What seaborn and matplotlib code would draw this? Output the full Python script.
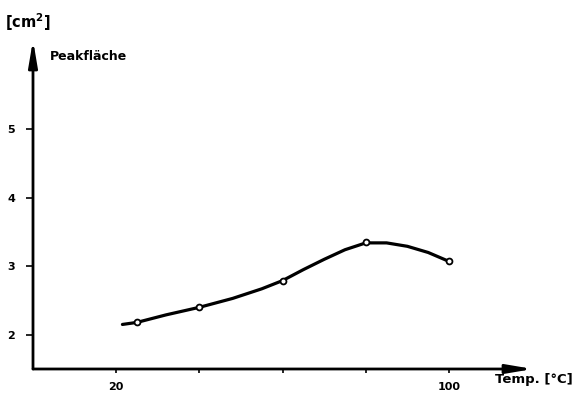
import matplotlib
matplotlib.use("Agg")
import matplotlib.pyplot as plt
import seaborn as sns
import pandas as pd

# measured points
temp = [25, 40, 60, 80, 100]
area = [2.18, 2.40, 2.79, 3.35, 3.07]

# hand-drawn smooth curve
curve_x = [21.5, 25, 32, 40, 48, 55, 60, 65, 70, 75, 80, 85, 90, 95, 100]
curve_y = [2.15, 2.18, 2.29, 2.40, 2.53, 2.67, 2.79, 2.95, 3.10, 3.24, 3.34, 3.34, 3.29, 3.20, 3.07]

x_ticks = [20, 40, 60, 80, 100]
x_tick_labels = ["20", "", "", "", "100"]
y_ticks = [2, 3, 4, 5]
y_tick_labels = ["2", "3", "4", "5"]

sns.set_theme(style="white")
plt.rcParams['font.family'] = ['DejaVu Sans']
plt.rcParams['text.color'] = 'black'
plt.rcParams['xtick.color'] = 'black'
plt.rcParams['ytick.color'] = 'black'

fig = plt.figure(figsize=(5.86, 3.95), dpi=100)
ax = fig.add_axes([33/586, 26/395, 500/586, 329/395])

df_curve = pd.DataFrame({"x": curve_x, "y": curve_y})
df_pts = pd.DataFrame({"x": temp, "y": area})

sns.lineplot(data=df_curve, x="x", y="y", ax=ax, color="black", linewidth=2.3,
             sort=False, estimator=None)
sns.scatterplot(data=df_pts, x="x", y="y", ax=ax, marker="o", s=18,
                facecolor="white", edgecolor="black", linewidth=1.3, zorder=5)

ax.set_xlim(0, 120.2)
ax.set_ylim(1.5, 6.3)
for s in ax.spines.values():
    s.set_visible(False)

# axes as arrows
ax.annotate("", xy=(1.0, 0), xytext=(0, 0), xycoords="axes fraction",
            arrowprops=dict(arrowstyle="-|>,head_length=1.3,head_width=0.22",
                            color="black", lw=2.0, shrinkA=0, shrinkB=0))
ax.annotate("", xy=(0, 1.0), xytext=(0, 0), xycoords="axes fraction",
            arrowprops=dict(arrowstyle="-|>,head_length=1.3,head_width=0.22",
                            color="black", lw=2.0, shrinkA=0, shrinkB=0))

ax.set_xticks(x_ticks)
ax.set_xticklabels(x_tick_labels, fontsize=8, fontweight="bold", color="black")
ax.set_yticks(y_ticks)
ax.set_yticklabels(y_tick_labels, fontsize=8, fontweight="bold", color="black")
ax.tick_params(axis="x", direction="out", length=3, width=1.2, color="black", pad=6, bottom=True)
ax.tick_params(axis="y", direction="out", length=5, width=1.2, color="black", pad=8, left=True)
ax.set_xlabel("")
ax.set_ylabel("")
ax.grid(False)

fig.text(5/586, 1 - 22/395, r"[cm$^{\mathbf{2}}$]", fontsize=10.5, fontweight="bold",
         va="center", ha="left", color="black")
fig.text(50/586, 1 - 57/395, "Peakfläche", fontsize=9, fontweight="bold",
         va="center", ha="left", color="black")
fig.text(495/586, 1 - 380/395, "Temp. [°C]", fontsize=9.5, fontweight="bold",
         va="center", ha="left", color="black")

fig.savefig("out.png", dpi=100, facecolor="white")
